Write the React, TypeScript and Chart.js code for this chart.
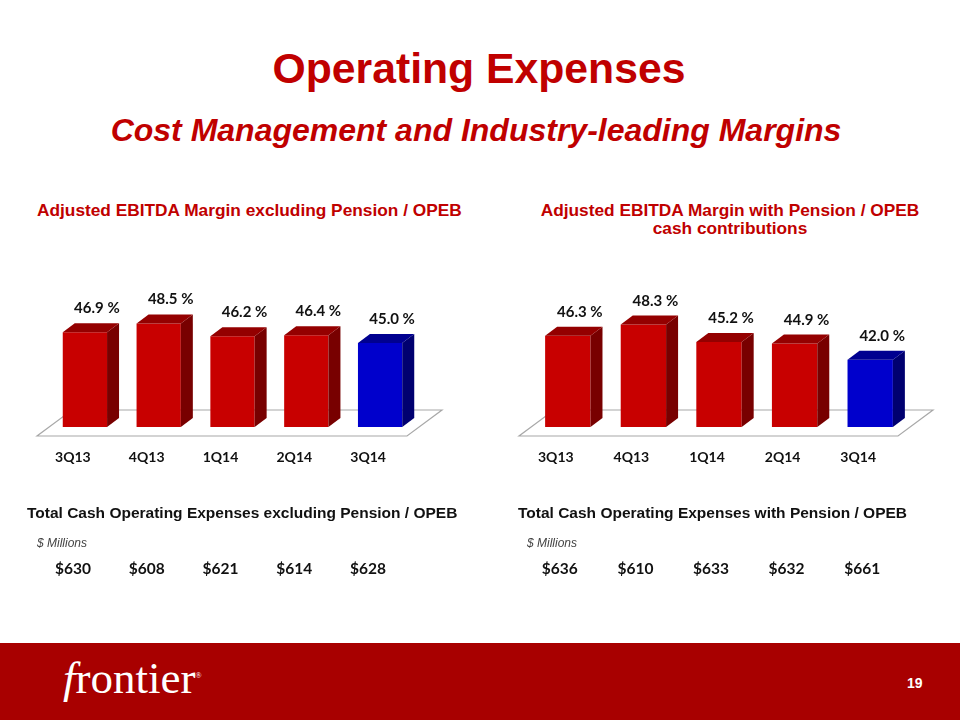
import React, { useEffect, useRef } from "react";
import { Chart, registerables } from "chart.js";

Chart.register(...registerables);

// ---------- data ----------
const quarters = ["3Q13", "4Q13", "1Q14", "2Q14", "3Q14"];
const marginExclPension = [46.9, 48.5, 46.2, 46.4, 45.0];
const marginWithPension = [46.3, 48.3, 45.2, 44.9, 42.0];
const opexExclPension = [630, 608, 621, 614, 628];
const opexWithPension = [636, 610, 633, 632, 661];

const RED = { front: "#C80000", top: "#940000", side: "#780000" };
const BLUE = { front: "#0000CC", top: "#000090", side: "#000070" };
const LABEL_FONT = "Lato, 'Open Sans', sans-serif";
const ARIAL = "'Liberation Sans', Arial, sans-serif";

type PanelProps = {
  values: number[];
  cash: number[];
  padLeft: number;
  padRight: number;
  cashOffset: number;
};

function BarPanel({ values, cash, padLeft, padRight, cashOffset }: PanelProps) {
  const ref = useRef<HTMLCanvasElement | null>(null);
  useEffect(() => {
    if (!ref.current) return;
    const DX = 12;
    const DY = 9;
    const last = values.length - 1;
    const pal = (i: number) => (i === last ? BLUE : RED);

    const cube = {
      id: "cube3d",
      beforeDatasetsDraw(chart: any) {
        const { ctx, chartArea } = chart;
        const l = chartArea.left, r = chartArea.right, b = chartArea.bottom;
        ctx.save();
        ctx.beginPath();
        ctx.moveTo(l - 11, b + 9);
        ctx.lineTo(r - 10, b + 9);
        ctx.lineTo(r + 25, b - 17);
        ctx.lineTo(l + 24, b - 17);
        ctx.closePath();
        ctx.fillStyle = "#ffffff";
        ctx.fill();
        ctx.strokeStyle = "#a8a8a8";
        ctx.lineWidth = 1.2;
        ctx.stroke();
        ctx.restore();
      },
      afterDatasetsDraw(chart: any) {
        const { ctx, chartArea } = chart;
        const meta = chart.getDatasetMeta(0);
        const yb = chartArea.bottom;
        ctx.save();
        meta.data.forEach((bar: any, i: number) => {
          const x0 = bar.x - bar.width / 2;
          const x1 = bar.x + bar.width / 2;
          const y0 = bar.y;
          const c = pal(i);
          ctx.fillStyle = c.side;
          ctx.beginPath();
          ctx.moveTo(x1, y0);
          ctx.lineTo(x1 + DX, y0 - DY);
          ctx.lineTo(x1 + DX, yb - DY);
          ctx.lineTo(x1, yb);
          ctx.closePath();
          ctx.fill();
          ctx.fillStyle = c.top;
          ctx.beginPath();
          ctx.moveTo(x0, y0);
          ctx.lineTo(x0 + DX, y0 - DY);
          ctx.lineTo(x1 + DX, y0 - DY);
          ctx.lineTo(x1, y0);
          ctx.closePath();
          ctx.fill();
        });
        // value labels
        ctx.fillStyle = "#111111";
        ctx.font = `bold 15px ${LABEL_FONT}`;
        ctx.textAlign = "center";
        ctx.textBaseline = "alphabetic";
        meta.data.forEach((bar: any, i: number) => {
          ctx.fillText(`${values[i].toFixed(1)} %`, bar.x + 12, bar.y - 19);
        });
        // cash opex row
        ctx.font = `bold 15.5px ${LABEL_FONT}`;
        meta.data.forEach((bar: any, i: number) => {
          ctx.fillText(`$${cash[i]}`, bar.x + cashOffset, 334);
        });
        ctx.restore();
      },
    };

    const chart = new Chart(ref.current, {
      type: "bar",
      data: {
        labels: quarters,
        datasets: [
          {
            data: values,
            backgroundColor: values.map((_, i) => pal(i).front),
            borderWidth: 0,
            barPercentage: 0.6,
            categoryPercentage: 1,
          },
        ],
      },
      options: {
        animation: false,
        responsive: false,
        maintainAspectRatio: false,
        layout: { padding: { left: padLeft, right: padRight, top: 47, bottom: 123 } },
        plugins: { legend: { display: false }, tooltip: { enabled: false }, title: { display: false } },
        scales: {
          x: {
            grid: { display: false, drawTicks: false },
            border: { display: false },
            ticks: {
              color: "#111111",
              font: { family: LABEL_FONT, weight: "bold", size: 14 },
              padding: 22,
              labelOffset: -12,
              maxRotation: 0,
            },
            afterFit: (s: any) => {
              s.height = 40;
            },
          },
          y: { display: false, min: 30, max: 55 },
        },
      } as any,
      plugins: [cube],
    });
    return () => chart.destroy();
  }, [values, cash, padLeft, padRight, cashOffset]);
  return <canvas ref={ref} width={480} height={350} style={{ width: 480, height: 350, display: "block" }} />;
}

const abs = (o: React.CSSProperties): React.CSSProperties => ({ position: "absolute", margin: 0, whiteSpace: "nowrap", ...o });

export default function App() {
  return (
    <div style={{ position: "fixed", left: 0, top: 0, width: 960, height: 720, background: "#fff", overflow: "hidden", fontFamily: ARIAL }}>
      <div style={abs({ left: 0, width: 958, top: 47, textAlign: "center", fontSize: 42.7, lineHeight: 1, fontWeight: "bold", color: "#C00000" })}>
        Operating Expenses
      </div>
      <div style={abs({ left: 0, width: 952, top: 114, textAlign: "center", fontSize: 32, lineHeight: 1, fontWeight: "bold", fontStyle: "italic", color: "#C00000" })}>
        Cost Management and Industry-leading Margins
      </div>

      <div style={abs({ left: 37, top: 202.4, fontSize: 17.3, lineHeight: 1, fontWeight: "bold", color: "#C00000" })}>
        Adjusted EBITDA Margin excluding Pension / OPEB
      </div>
      <div style={abs({ left: 530, width: 400, top: 201, fontSize: 17.3, lineHeight: "18px", fontWeight: "bold", color: "#C00000", textAlign: "center" })}>
        Adjusted EBITDA Margin with Pension / OPEB
        <br />
        cash contributions
      </div>

      <div style={abs({ left: 0, top: 240 })}>
        <BarPanel values={marginExclPension} cash={opexExclPension} padLeft={48} padRight={63} cashOffset={-12} />
      </div>
      <div style={abs({ left: 480, top: 240 })}>
        <BarPanel values={marginWithPension} cash={opexWithPension} padLeft={50} padRight={52} cashOffset={-8} />
      </div>

      <div style={abs({ left: 27, top: 505, fontSize: 15.5, lineHeight: 1, fontWeight: "bold", color: "#111" })}>
        Total Cash Operating Expenses excluding Pension / OPEB
      </div>
      <div style={abs({ left: 518, top: 505, fontSize: 15.5, lineHeight: 1, fontWeight: "bold", color: "#111" })}>
        Total Cash Operating Expenses with Pension / OPEB
      </div>
      <div style={abs({ left: 37, top: 537, fontSize: 12, lineHeight: 1, fontStyle: "italic", color: "#444" })}>$ Millions</div>
      <div style={abs({ left: 527, top: 537, fontSize: 12, lineHeight: 1, fontStyle: "italic", color: "#444" })}>$ Millions</div>

      <div style={abs({ left: 0, top: 643, width: 960, height: 77, background: "#A80000" })}>
        <div style={abs({ left: 63, top: 13, fontFamily: "'Liberation Serif', 'DejaVu Serif', serif", fontSize: 45, lineHeight: 1, color: "#fff" })}>
          <span style={{ fontStyle: "italic" }}>f</span>rontier
          <span style={{ fontSize: 8, verticalAlign: "top", position: "relative", top: 16 }}>®</span>
        </div>
        <div style={abs({ left: 907, top: 33, fontSize: 14, lineHeight: 1, fontWeight: "bold", color: "#fff" })}>19</div>
      </div>
    </div>
  );
}
